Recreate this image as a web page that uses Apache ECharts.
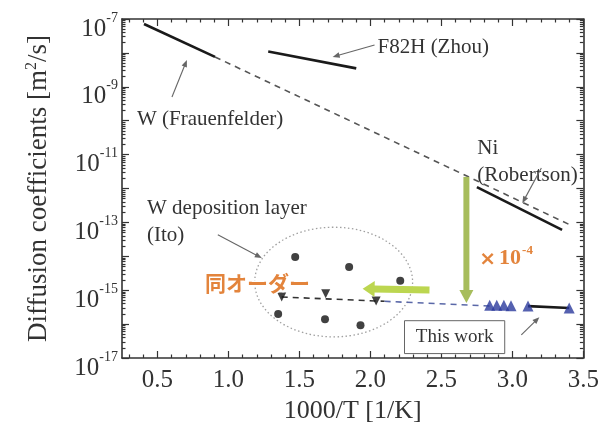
<!DOCTYPE html>
<html>
<head>
<meta charset="utf-8">
<script src="https://cdn.jsdelivr.net/npm/echarts@6/dist/echarts.min.js"></script>
<style>html,body{margin:0;padding:0;background:#fff;}#c{width:602px;height:436px;}</style>
</head>
<body>
<div id="c"></div>
<script>
// ---------------- data ----------------
const wFrauX = [0.405, 0.905];
const wFrauY = [7.1e-8, 7.6e-9];
const wExtX = [0.905, 3.41];
const wExtY = [7.6e-9, 8.3e-14];
const f82hX = [1.28, 1.90];
const f82hY = [1.1e-8, 3.5e-9];
const niX = [2.75, 3.35];
const niY = [1.1e-12, 6.0e-14];
const itoCircleX = [1.47, 1.85, 2.21, 1.35, 1.68, 1.93];
const itoCircleY = [9.5e-15, 4.8e-15, 1.9e-15, 2.0e-16, 1.4e-16, 9.3e-17];
const itoTriX = [1.375, 1.685, 2.04];
const itoTriY = [6.3e-16, 7.8e-16, 4.8e-16];
const itoFitX = [1.375, 2.10];
const itoFitY = [6.3e-16, 4.7e-16];
const extFitX = [2.10, 2.85];
const extFitY = [4.7e-16, 3.4e-16];
const thisWorkX = [2.84, 2.89, 2.94, 2.99, 3.11, 3.40];
const thisWorkY = [3.6e-16, 3.6e-16, 3.6e-16, 3.5e-16, 3.4e-16, 3.0e-16];
const thisLineX = [3.11, 3.40];
const thisLineY = [3.4e-16, 3.0e-16];

const xMajorTicks = [0.5, 1.0, 1.5, 2.0, 2.5, 3.0, 3.5];
const xMinorTicks = [0.3, 0.4, 0.6, 0.7, 0.8, 0.9, 1.1, 1.2, 1.3, 1.4, 1.6, 1.7, 1.8, 1.9,
                     2.1, 2.2, 2.3, 2.4, 2.6, 2.7, 2.8, 2.9, 3.1, 3.2, 3.3, 3.4];
const yDecades = [-17, -16, -15, -14, -13, -12, -11, -10, -9, -8, -7];
const yLabelExps = [-17, -15, -13, -11, -9, -7];

// annotations (anchored in data coordinates)
const notes = [
  {t: 'F82H (Zhou)', x: 2.05, y: 1.48e-8},
  {t: 'W (Frauenfelder)', x: 0.355, y: 1.05e-10},
  {t: 'Ni', x: 2.753, y: 1.55e-11},
  {t: '(Robertson)', x: 2.753, y: 2.5e-12},
  {t: 'W deposition layer', x: 0.426, y: 2.6e-13},
  {t: '(Ito)', x: 0.426, y: 4.0e-14}
];
const pointers = [
  [[2.029, 1.7e-8], [1.734, 7.6e-9]],
  [[0.602, 5.0e-10], [0.707, 6.2e-9]],
  [[3.204, 4.0e-12], [3.07, 3.7e-13]],
  [[0.925, 4.3e-14], [1.235, 8.9e-15]],
  [[3.063, 4.8e-17], [3.19, 1.6e-16]]
];
const greenDown = [[2.676, 2.2e-12], [2.676, 4.2e-16]];
const greenLeft = [[2.416, 1.02e-15], [1.945, 1.1e-15]];
const ellipseC = [1.741, 1.74e-15];
const ellipseX = [1.185, 2.297];
const ellipseY = [7.2e-14, 4.2e-17];

// ---------------- chart ----------------
const FONT = '"Liberation Serif", "Times New Roman", serif';
const AX = '#333';
const yMinor = [];
yDecades.slice(0, -1).forEach(e => { for (let k = 2; k <= 9; k++) yMinor.push(k * Math.pow(10, e)); });
const yMajor = yDecades.map(e => Math.pow(10, e));
const yLab = yLabelExps.map(e => Math.pow(10, e));

function xAx(pos, ticks, len, line, label) {
  return {
    type: 'value', min: 0.25, max: 3.5, position: pos,
    axisLine: {show: line, onZero: false, lineStyle: {color: AX, width: 1.6}},
    axisTick: {show: true, inside: true, length: len, customValues: ticks, lineStyle: {color: AX, width: 1.2}},
    axisLabel: label ? {show: true, customValues: xMajorTicks, margin: 10,
      formatter: v => v.toFixed(1), fontFamily: FONT, fontSize: 25, color: AX} : {show: false},
    splitLine: {show: false}
  };
}
function yAx(pos, ticks, len, line, label) {
  return {
    type: 'log', logBase: 10, min: 1e-17, max: 1e-7, position: pos,
    axisLine: {show: line, onZero: false, lineStyle: {color: AX, width: 1.6}},
    axisTick: {show: true, inside: true, length: len, customValues: ticks, lineStyle: {color: AX, width: 1.2}},
    axisLabel: label ? {show: true, customValues: yLab, margin: 4, padding: [20, 0, 0, 0],
      formatter: v => '{b|10}{s|' + Math.round(Math.log10(v)) + '}',
      rich: {
        b: {fontFamily: FONT, fontSize: 25, color: AX},
        s: {fontFamily: FONT, fontSize: 14, color: AX, verticalAlign: 'top', padding: [0, 0, 22, 0]}
      }} : {show: false},
    splitLine: {show: false}
  };
}
const xa0 = xAx('bottom', xMajorTicks, 7, true, true);
xa0.name = '1000/T [1/K]';
xa0.nameLocation = 'middle';
xa0.nameGap = 40;
xa0.nameTextStyle = {fontFamily: FONT, fontSize: 26, color: AX};
const ya0 = yAx('left', yMajor, 7, true, true);
ya0.name = 'Diffusion coefficients [m{s|2}/s]';
ya0.nameLocation = 'middle';
ya0.nameGap = 68;
ya0.nameTextStyle = {fontFamily: FONT, fontSize: 27, color: AX,
  rich: {s: {fontFamily: FONT, fontSize: 16, color: AX, verticalAlign: 'top', padding: [0, 0, 14, 0]}}};

const zip = (a, b) => a.map((v, i) => [v, b[i]]);
const solid = (name, X, Y) => ({name, type: 'line', data: zip(X, Y), symbol: 'none',
  lineStyle: {color: '#1a1a1a', width: 2.6}, z: 3});
const dashed = (name, X, Y, c) => ({name, type: 'line', data: zip(X, Y), symbol: 'none',
  lineStyle: {color: c, width: 1.6, type: [6, 5]}, z: 2});

const chart = echarts.init(document.getElementById('c'), null, {renderer: 'canvas'});
chart.setOption({
  animation: false,
  backgroundColor: '#fff',
  grid: {left: 122, right: 18, top: 19, bottom: 78},
  xAxis: [xa0, xAx('bottom', xMinorTicks, 3.5, false, false),
          xAx('top', xMajorTicks, 7, true, false), xAx('top', xMinorTicks, 3.5, false, false)],
  yAxis: [ya0, yAx('left', yMinor, 3.5, false, false),
          yAx('right', yMajor, 7, true, false), yAx('right', yMinor, 3.5, false, false)],
  series: [
    dashed('W ext', wExtX, wExtY, '#555'),
    solid('W (Frauenfelder)', wFrauX, wFrauY),
    solid('F82H (Zhou)', f82hX, f82hY),
    solid('Ni (Robertson)', niX, niY),
    dashed('Ito fit', itoFitX, itoFitY, '#333'),
    dashed('This work ext', extFitX, extFitY, '#5a68a8'),
    solid('This work line', thisLineX, thisLineY),
    {name: 'Ito circles', type: 'scatter', data: zip(itoCircleX, itoCircleY), symbol: 'circle',
      symbolSize: 8, itemStyle: {color: '#111'}, z: 4},
    {name: 'Ito triangles', type: 'scatter', data: zip(itoTriX, itoTriY), symbol: 'triangle',
      symbolRotate: 180, symbolSize: 9, itemStyle: {color: '#111'}, z: 4},
    {name: 'This work', type: 'scatter', data: zip(thisWorkX, thisWorkY), symbol: 'triangle',
      symbolSize: 11, itemStyle: {color: '#2a3a9c'}, z: 5}
  ]
});

// ------------- annotations built from data coordinates -------------
const P = d => chart.convertToPixel({xAxisIndex: 0, yAxisIndex: 0}, d);
function arrow(a, b, L, W, color, width, z) {
  const p0 = P(a), p1 = P(b);
  const dx = p1[0] - p0[0], dy = p1[1] - p0[1], n = Math.hypot(dx, dy);
  const ux = dx / n, uy = dy / n;
  const bx = p1[0] - ux * L, by = p1[1] - uy * L;
  return [
    {type: 'line', shape: {x1: p0[0], y1: p0[1], x2: bx + ux, y2: by + uy},
      style: {stroke: color, lineWidth: width}, z: z},
    {type: 'polygon', shape: {points: [[p1[0], p1[1]], [bx - uy * W, by + ux * W], [bx + uy * W, by - ux * W]]},
      style: {fill: color}, z: z}
  ];
}
const g = [];
notes.forEach(n => {
  const p = P([n.x, n.y]);
  g.push({type: 'text', x: p[0], y: p[1], style: {text: n.t, font: '21px ' + FONT, fill: '#333',
    textAlign: 'left', textVerticalAlign: 'middle', verticalAlign: 'middle'}, z: 10});
});
pointers.forEach(pt => g.push(...arrow(pt[0], pt[1], 7, 2.8, '#666', 1.1, 10)));
// ellipse
(function () {
  const c = P(ellipseC), l = P([ellipseX[0], ellipseC[1]]), r = P([ellipseX[1], ellipseC[1]]);
  const t = P([ellipseC[0], ellipseY[0]]), b = P([ellipseC[0], ellipseY[1]]);
  g.push({type: 'ellipse', shape: {cx: c[0], cy: c[1], rx: (r[0] - l[0]) / 2, ry: (b[1] - t[1]) / 2},
    style: {fill: 'none', stroke: '#a0a0a0', lineWidth: 1.3, lineDash: [1.5, 2.5]}, z: 1});
})();
// green arrows
g.push(...arrow(greenDown[0], greenDown[1], 13, 7, '#a7bd5c', 6, 6));
g.push(...arrow(greenLeft[0], greenLeft[1], 12, 8, '#bcd650', 7, 6));
// orange labels
(function () {
  const p = P([0.834, 1.62e-15]);
  g.push({type: 'text', x: p[0], y: p[1], style: {text: '同オーダー',
    font: 'bold 21px "Noto Sans CJK JP"', fill: '#e3843c', textAlign: 'left', textVerticalAlign: 'middle',
    verticalAlign: 'middle', stroke: '#fff', lineWidth: 3}, z: 11});
  const q = P([2.767, 8.9e-15]);
  g.push({type: 'text', x: q[0], y: q[1], style: {text: '{a|×}{b|10}{c|-4}',
    textAlign: 'left', textVerticalAlign: 'middle', verticalAlign: 'middle',
    rich: {
      a: {font: 'bold 20px "DejaVu Sans"', fill: '#e3843c', padding: [4, 3, 0, 0]},
      b: {font: 'bold 22px ' + FONT, fill: '#e3843c'},
      c: {font: 'bold 13px ' + FONT, fill: '#e3843c', verticalAlign: 'top', padding: [0, 0, 14, 1]}
    }}, z: 11});
  const tl = P([2.24, 1.26e-16]), br = P([2.946, 1.35e-17]);
  g.push({type: 'rect', shape: {x: tl[0], y: tl[1], width: br[0] - tl[0], height: br[1] - tl[1]},
    style: {fill: '#fff', stroke: '#666', lineWidth: 1}, z: 9});
  g.push({type: 'text', x: (tl[0] + br[0]) / 2, y: (tl[1] + br[1]) / 2, style: {text: 'This work',
    font: '19px ' + FONT, fill: '#333', textAlign: 'center', textVerticalAlign: 'middle', verticalAlign: 'middle'}, z: 10});
})();
chart.setOption({graphic: {elements: g}});
</script>
</body>
</html>
